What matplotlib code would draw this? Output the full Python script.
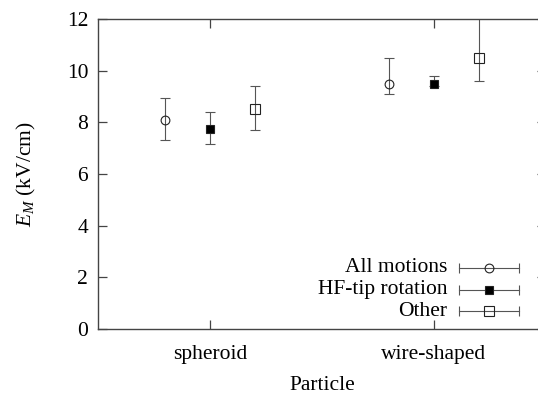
import matplotlib
matplotlib.use('Agg')
import matplotlib.pyplot as plt
import numpy as np

particles = ['spheroid', 'wire-shaped']
series = ['All motions', 'HF-tip rotation', 'Other']

# centre value, lower end, upper end of the error bar (kV/cm)
all_mean = [8.1, 9.5]
all_low = [7.3, 9.1]
all_high = [8.95, 10.5]

hf_mean = [7.75, 9.5]
hf_low = [7.15, 9.4]
hf_high = [8.4, 9.8]

other_mean = [8.5, 10.5]
other_low = [7.7, 9.6]
other_high = [9.4, 12.5]

plt.rcParams['font.family'] = ['Liberation Serif', 'DejaVu Serif']
plt.rcParams['mathtext.fontset'] = 'custom'
plt.rcParams['mathtext.rm'] = 'Liberation Serif'
plt.rcParams['mathtext.it'] = 'Liberation Serif:italic'

fs = 15.5
fig = plt.figure(figsize=(5.38, 3.94), dpi=100)
ax = fig.add_axes([0.182, 0.165, 0.833, 0.787])

x = np.arange(1, len(particles) + 1)
offsets = [-0.2, 0.0, 0.2]
markers = [('o', 'none'), ('s', 'k'), ('s', 'none')]
msizes = [6.3, 5.5, 6.5]
data = [(all_mean, all_low, all_high), (hf_mean, hf_low, hf_high), (other_mean, other_low, other_high)]

ecol = '#555555'
for (mean, low, high), off, (mk, fc), ms in zip(data, offsets, markers, msizes):
    mean = np.array(mean)
    yerr = [mean - np.array(low), np.array(high) - mean]
    ax.errorbar(x + off, mean, yerr=yerr, fmt=mk, mfc=fc, mec='#222222', ms=ms,
                mew=0.8, ecolor=ecol, elinewidth=0.8, capsize=3.3, capthick=0.8)

# key, gnuplot style: text then horizontal error bar with marker
key_y = [0.197, 0.126, 0.058]
for label, (mk, fc), ms, ky in zip(series, markers, msizes, key_y):
    ax.text(0.779, ky, label, transform=ax.transAxes, ha='right', va='center', fontsize=fs)
    ax.plot([0.806, 0.940], [ky, ky], transform=ax.transAxes, color=ecol, lw=0.8)
    ax.plot([0.806, 0.940], [ky, ky], transform=ax.transAxes, ls='none', marker='|',
            ms=6.5, mew=0.8, color=ecol)
    ax.plot([0.873], [ky], transform=ax.transAxes, marker=mk, mfc=fc, mec='#222222',
            ms=ms, mew=0.8, ls='none')

ax.set_xlim(0.5, 2.5)
ax.set_ylim(0, 12)
ax.set_xticks(x)
ax.set_xticklabels(particles)
ax.set_yticks(np.arange(0, 13, 2))
ax.tick_params(direction='in', length=6.5, width=0.9, color='#444444',
               top=True, right=True, labelsize=fs)
ax.tick_params(axis='x', pad=11.5)
ax.tick_params(axis='y', pad=7)
for s in ax.spines.values():
    s.set_color('#444444')
    s.set_linewidth(1.0)

ax.set_xlabel('Particle', fontsize=fs)
ax.set_ylabel(r'$E_M$ (kV/cm)', fontsize=fs)
ax.xaxis.set_label_coords(0.5, -0.15)
ax.yaxis.set_label_coords(-0.134, 0.5)

fig.savefig('out.png', dpi=100)
